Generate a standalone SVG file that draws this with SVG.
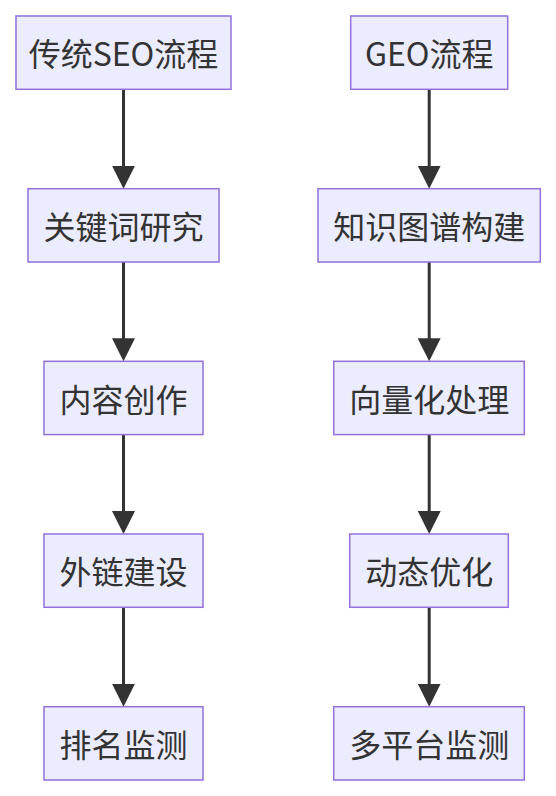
<svg xmlns="http://www.w3.org/2000/svg" width="556" height="796" viewBox="0 0 556 796">
<style>
.node rect{fill:#ECECFF;stroke:#9370DB;stroke-width:1.5}
.node text{font-family:"Noto Sans CJK SC","Noto Sans",sans-serif;font-size:32px;fill:#333333;text-anchor:middle}
.edge{stroke:#333333;stroke-width:3;fill:none}
</style>
<defs>
<marker id="arrow" viewBox="0 0 23 23" refX="1" refY="11.5" markerWidth="23" markerHeight="23" markerUnits="userSpaceOnUse" orient="auto">
<path d="M0,0 L23,11.5 L0,23 z" fill="#333333"/>
</marker>
</defs>
<g id="connectors">
<path class="edge" d="M123.5,89.3 V166.7" marker-end="url(#arrow)"/>
<path class="edge" d="M123.5,261.9 V339.3" marker-end="url(#arrow)"/>
<path class="edge" d="M123.5,434.6 V512" marker-end="url(#arrow)"/>
<path class="edge" d="M123.5,607.3 V684.7" marker-end="url(#arrow)"/>
<path class="edge" d="M429.2,89.3 V166.7" marker-end="url(#arrow)"/>
<path class="edge" d="M429.2,261.9 V339.3" marker-end="url(#arrow)"/>
<path class="edge" d="M429.2,434.6 V512" marker-end="url(#arrow)"/>
<path class="edge" d="M429.2,607.3 V684.7" marker-end="url(#arrow)"/>
</g>
<g id="seo_start" class="node"><rect x="16" y="16" width="215" height="73.3"/><text x="123.5" y="66.2">传统SEO流程</text></g>
<g id="seo_keyword" class="node"><rect x="28" y="188.7" width="191" height="73.3"/><text x="123.5" y="238.9">关键词研究</text></g>
<g id="seo_content" class="node"><rect x="44" y="361.3" width="159" height="73.3"/><text x="123.5" y="411.5">内容创作</text></g>
<g id="seo_links" class="node"><rect x="44" y="534" width="159" height="73.3"/><text x="123.5" y="584.2">外链建设</text></g>
<g id="seo_rank" class="node"><rect x="44" y="706.7" width="159" height="73.3"/><text x="123.5" y="756.9">排名监测</text></g>
<g id="geo_start" class="node"><rect x="350.7" y="16" width="157" height="73.3"/><text x="429.2" y="66.2">GEO流程</text></g>
<g id="geo_kg" class="node"><rect x="318" y="188.7" width="222.3" height="73.3"/><text x="429.2" y="238.9">知识图谱构建</text></g>
<g id="geo_vector" class="node"><rect x="333.7" y="361.3" width="190.6" height="73.3"/><text x="429.2" y="411.5">向量化处理</text></g>
<g id="geo_dynamic" class="node"><rect x="349.7" y="534" width="158.6" height="73.3"/><text x="429.2" y="584.2">动态优化</text></g>
<g id="geo_monitor" class="node"><rect x="333.7" y="706.7" width="190.6" height="73.3"/><text x="429.2" y="756.9">多平台监测</text></g>
</svg>
